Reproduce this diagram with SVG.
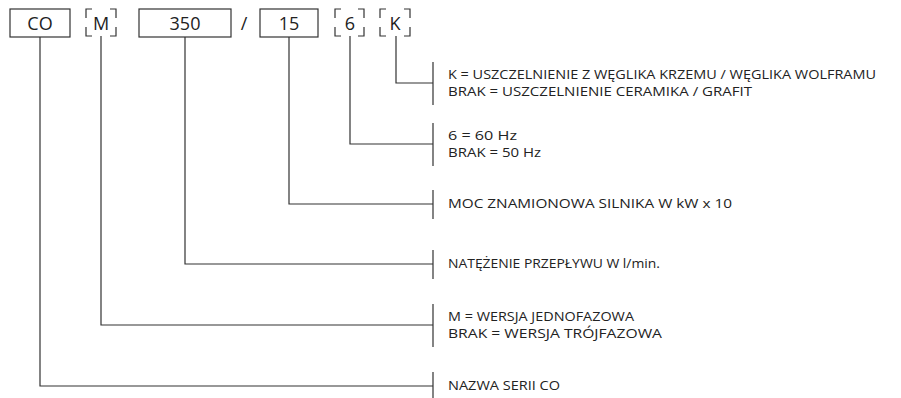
<svg xmlns="http://www.w3.org/2000/svg" width="901" height="398" viewBox="0 0 901 398">
<style>
.ln{fill:none;stroke:#333;stroke-width:1.2}
.bx{fill:#fff;stroke:#333;stroke-width:1.2}
.code{font-family:"Open Sans","Noto Sans",sans-serif;font-size:18px;fill:#222;text-anchor:middle}
.lbl{font-family:"Open Sans","Noto Sans",sans-serif;font-size:12.5px;fill:#222}
</style>
<rect width="901" height="398" fill="#fff"/>
<g id="code">
<g id="box-co"><rect class="bx" x="10" y="9" width="60" height="28"/><text class="code" x="40" y="30">CO</text></g>
<g id="box-m"><path class="ln" d="M86,18V9H92M110,9H116V18M116,27V36H110M92,36H86V27"/><text class="code" x="101" y="30">M</text></g>
<g id="box-350"><rect class="bx" x="139" y="9" width="92" height="28"/><text class="code" x="185" y="30">350</text></g>
<text class="code" x="244" y="30">/</text>
<g id="box-15"><rect class="bx" x="260" y="9" width="58" height="28"/><text class="code" x="289" y="30">15</text></g>
<g id="box-6"><path class="ln" d="M335,18V9H341M358,9H364V18M364,27V36H358M341,36H335V27"/><text class="code" x="350" y="30">6</text></g>
<g id="box-k"><path class="ln" d="M380,18V9H386M404,9H410V18M410,27V36H404M386,36H380V27"/><text class="code" x="395" y="30">K</text></g>
</g>
<g id="connectors">
<path class="ln" d="M396,36V83H433"/>
<path class="ln" d="M350,36V144H433"/>
<path class="ln" d="M289,37V204H433"/>
<path class="ln" d="M185,37V264H433"/>
<path class="ln" d="M101,36V325H433"/>
<path class="ln" d="M40,37V386H433"/>
<path class="ln" d="M433,62V105M433,123V166M433,190V219M433,250V279M433,304V347M433,372V400"/>
</g>
<g id="label-k"><text class="lbl" x="448" y="79" textLength="428" lengthAdjust="spacingAndGlyphs">K = USZCZELNIENIE Z WĘGLIKA KRZEMU /  WĘGLIKA WOLFRAMU</text><text class="lbl" x="448" y="96" textLength="304" lengthAdjust="spacingAndGlyphs">BRAK = USZCZELNIENIE CERAMIKA / GRAFIT</text></g>
<g id="label-6"><text class="lbl" x="448" y="140" textLength="69" lengthAdjust="spacingAndGlyphs">6 = 60 Hz</text><text class="lbl" x="448" y="157" textLength="93" lengthAdjust="spacingAndGlyphs">BRAK = 50 Hz</text></g>
<g id="label-moc"><text class="lbl" x="448" y="208" textLength="284" lengthAdjust="spacingAndGlyphs">MOC ZNAMIONOWA SILNIKA W kW x 10</text></g>
<g id="label-nat"><text class="lbl" x="448" y="268" textLength="212" lengthAdjust="spacingAndGlyphs">NATĘŻENIE PRZEPŁYWU W l/min.</text></g>
<g id="label-m"><text class="lbl" x="448" y="321" textLength="186" lengthAdjust="spacingAndGlyphs">M = WERSJA JEDNOFAZOWA</text><text class="lbl" x="448" y="338" textLength="214" lengthAdjust="spacingAndGlyphs">BRAK = WERSJA TRÓJFAZOWA</text></g>
<g id="label-co"><text class="lbl" x="448" y="390" textLength="112" lengthAdjust="spacingAndGlyphs">NAZWA SERII CO</text></g>
</svg>
